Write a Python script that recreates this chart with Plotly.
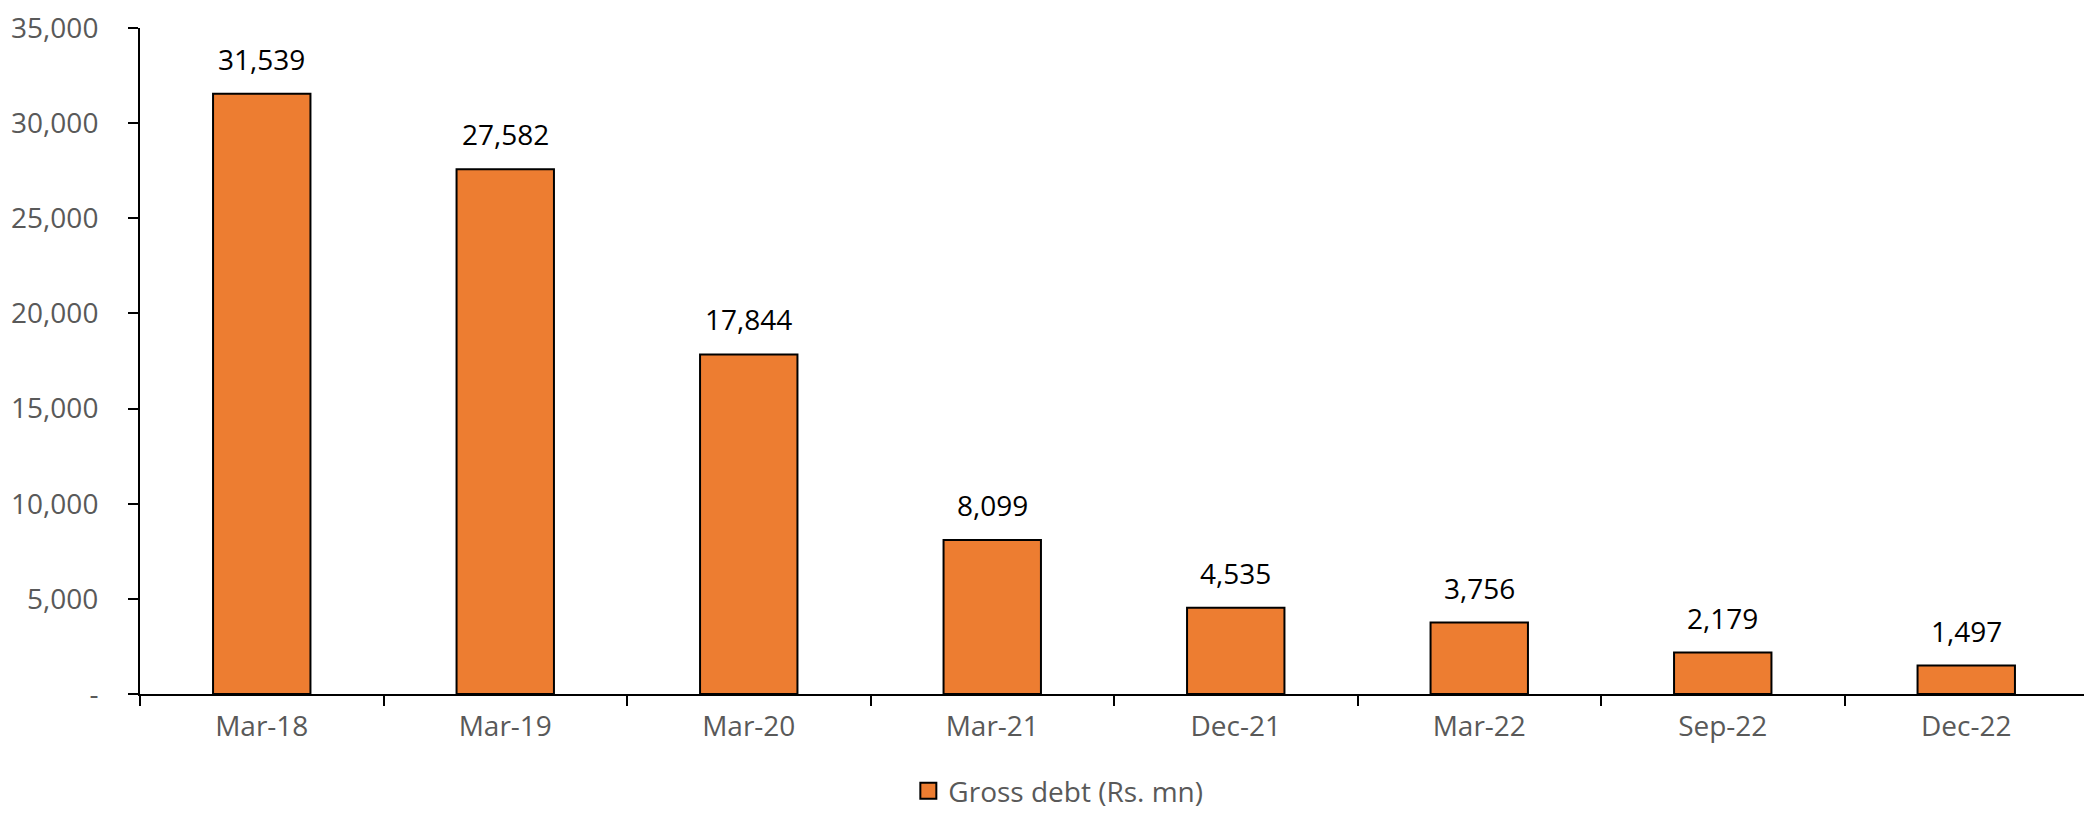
import plotly.graph_objects as go

categories = ["Mar-18", "Mar-19", "Mar-20", "Mar-21", "Dec-21", "Mar-22", "Sep-22", "Dec-22"]
gross_debt = [31539, 27582, 17844, 8099, 4535, 3756, 2179, 1497]
y_tick_vals = [0, 5000, 10000, 15000, 20000, 25000, 30000, 35000]
y_tick_text = ["-", "5,000", "10,000", "15,000", "20,000", "25,000", "30,000", "35,000"]
series_name = "Gross debt (Rs. mn)"

FONT = "Open Sans"
ORANGE = "#ED7D31"

fig = go.Figure()
fig.add_trace(go.Bar(
    x=categories,
    y=gross_debt,
    name=series_name,
    marker=dict(color=ORANGE, line=dict(color="black", width=2)),
    showlegend=False,
))
# legend entry with a larger square swatch
fig.add_trace(go.Scatter(
    x=[None], y=[None], mode="markers", name=series_name,
    marker=dict(symbol="square", size=18, color=ORANGE, line=dict(color="black", width=2)),
    showlegend=True,
))

for c, v in zip(categories, gross_debt):
    fig.add_annotation(
        x=c, y=v, text=f"{v:,}", showarrow=False,
        yanchor="bottom", yshift=14,
        font=dict(family=FONT, size=28, color="black"),
    )

# page body has an 8px default margin, so the figure is drawn 8px in from the corner
fig.update_layout(
    width=2084, height=808,
    margin=dict(l=132, r=4, t=20, b=122, autoexpand=False),
    paper_bgcolor="white", plot_bgcolor="white",
    bargap=0.6,
    showlegend=True,
    legend=dict(
        orientation="h", xref="container", yref="container",
        x=0.504, xanchor="center", y=0.0, yanchor="bottom",
        font=dict(family=FONT, size=28, color="#595959"),
        itemwidth=30,
    ),
    xaxis=dict(
        showline=True, linecolor="black", linewidth=2,
        ticks="outside", tickson="boundaries", ticklen=10, tickcolor="black", tickwidth=2,
        tickfont=dict(family=FONT, size=28, color="#595959"),
        ticklabelstandoff=6, automargin=False,
        showgrid=False,
    ),
    yaxis=dict(
        range=[0, 35000],
        tickvals=y_tick_vals, ticktext=y_tick_text,
        showline=True, linecolor="black", linewidth=2,
        ticks="outside", ticklen=10, tickcolor="black", tickwidth=2,
        tickfont=dict(family=FONT, size=28, color="#595959"),
        ticklabelstandoff=24, ticklabeloverflow="allow", automargin=False,
        showgrid=False, zeroline=False,
    ),
)

fig.write_html("out.html")
